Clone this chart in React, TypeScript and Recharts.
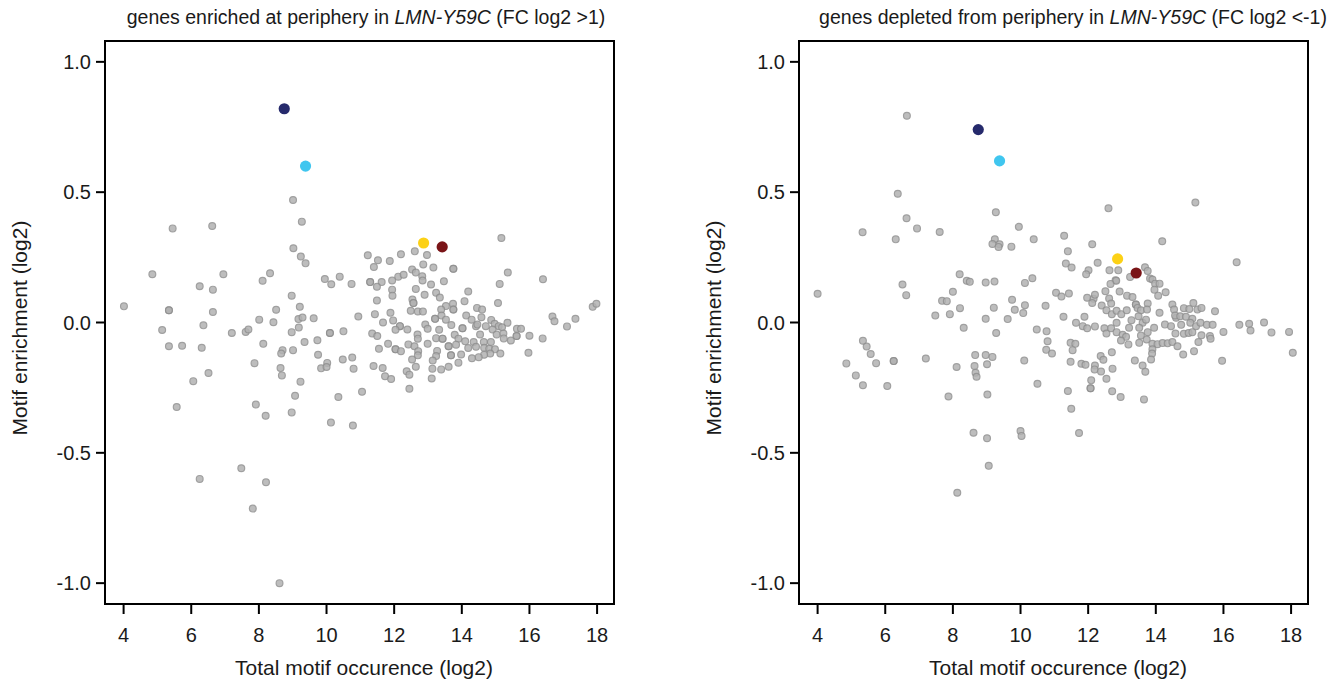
import { ScatterChart, Scatter, XAxis, YAxis, ReferenceArea } from 'recharts'

// [total motif occurrence (log2), motif enrichment (log2)]
const enrichedBackground: [number, number][] = [
  [9.01, 0.47], [9.27, 0.387], [5.45, 0.361], [6.62, 0.37], [9.02, 0.285], [9.24, 0.253], [9.38, 0.227],
  [4.85, 0.185], [6.95, 0.185], [8.33, 0.189], [8.11, 0.16], [6.25, 0.139], [6.64, 0.126], [9.95, 0.167],
  [10.14, 0.147], [10.39, 0.176], [10.74, 0.148], [8.97, 0.103], [4.01, 0.062], [5.34, 0.047], [5.34, 0.047],
  [6.64, 0.04], [8.51, 0.049], [9.21, 0.06], [8.01, 0.011], [8.43, 0.001], [9.17, 0.013], [9.29, 0.019],
  [9.62, 0.016], [6.36, -0.011],
  [5.14, -0.029], [7.2, -0.04], [7.61, -0.036], [7.69, -0.027], [8.97, -0.037], [9.18, -0.019], [10.1, -0.04],
  [10.1, -0.04], [10.5, -0.034], [5.34, -0.091], [5.73, -0.089], [6.31, -0.097], [8.13, -0.082], [8.7, -0.106],
  [8.66, -0.119], [9.01, -0.106], [9.35, -0.075], [9.73, -0.068], [9.75, -0.124], [10.02, -0.155], [9.84, -0.176],
  [10.0, -0.171], [10.48, -0.142], [10.76, -0.134], [10.8, -0.177], [7.87, -0.156], [8.64, -0.175], [8.68, -0.203],
  [6.51, -0.194], [6.06, -0.225], [9.23, -0.227], [9.07, -0.281], [10.35, -0.286], [5.57, -0.324], [7.91, -0.315],
  [8.2, -0.358], [8.97, -0.345], [10.13, -0.384], [10.78, -0.395], [7.48, -0.559], [6.25, -0.6], [8.21, -0.613],
  [7.82, -0.714], [8.61, -1.0],
  [11.22, 0.258], [11.52, 0.239], [11.87, 0.236], [12.2, 0.262], [12.61, 0.273], [12.97, 0.259], [11.4, 0.213],
  [12.86, 0.223], [13.16, 0.211], [13.75, 0.206], [13.75, 0.206], [12.53, 0.203], [12.64, 0.192], [12.83, 0.177],
  [12.12, 0.176], [12.28, 0.183], [11.94, 0.161], [11.63, 0.155], [11.29, 0.155], [11.29, 0.155], [11.49, 0.137],
  [12.84, 0.161], [13.09, 0.146], [13.47, 0.158], [12.64, 0.129], [11.94, 0.126], [11.95, 0.103], [12.9, 0.106],
  [13.24, 0.114], [13.35, 0.096], [14.19, 0.119], [11.49, 0.084], [12.54, 0.088], [12.57, 0.075], [12.57, 0.075],
  [14.08, 0.082], [13.74, 0.072], [13.53, 0.063], [13.39, 0.05], [13.75, 0.05], [13.75, 0.05], [14.45, 0.056],
  [12.49, 0.045], [12.7, 0.042], [12.85, 0.042], [11.89, 0.037], [11.43, 0.032], [10.94, 0.023], [14.13, 0.027],
  [14.29, 0.011], [13.21, 0.014], [13.21, 0.014], [13.4, 0.027], [13.53, 0.011], [11.97, 0.008], [11.67, 0.0],
  [12.92, -0.008], [13.69, -0.01], [14.02, -0.022], [14.02, -0.022], [14.42, -0.014], [12.17, -0.014],
  [12.17, -0.014], [12.04, -0.028], [12.39, -0.027], [12.99, -0.024], [13.33, -0.028], [13.79, -0.047],
  [11.35, -0.042], [11.5, -0.052], [12.69, -0.046], [12.7, -0.062], [13.24, -0.06], [13.43, -0.062], [13.43, -0.062],
  [13.9, -0.062], [14.1, -0.072], [11.82, -0.082], [12.42, -0.084], [12.6, -0.091], [12.99, -0.082], [13.61, -0.091],
  [13.61, -0.091], [13.83, -0.085], [14.35, -0.075], [14.19, -0.098], [11.55, -0.101], [12.04, -0.103],
  [12.04, -0.103], [12.2, -0.11], [12.71, -0.11], [13.27, -0.109], [13.68, -0.126], [13.68, -0.126], [13.98, -0.123],
  [12.7, -0.126], [13.24, -0.129], [14.3, -0.137], [12.53, -0.142], [13.14, -0.146], [13.9, -0.154], [11.39, -0.167],
  [11.66, -0.175], [12.64, -0.17], [13.13, -0.177], [13.39, -0.18], [13.61, -0.17], [12.37, -0.187], [12.45, -0.2],
  [11.73, -0.206], [11.91, -0.217], [13.11, -0.215], [11.05, -0.266], [12.45, -0.254],
  [15.17, 0.324], [15.36, 0.192], [15.12, 0.148], [16.4, 0.166], [15.07, 0.075], [14.6, 0.05], [14.58, 0.02],
  [14.46, -0.008], [14.87, 0.01], [14.97, -0.005], [15.09, -0.014], [15.19, -0.018], [15.35, -0.001], [14.71, -0.014],
  [14.91, -0.027], [15.63, -0.024], [15.75, -0.024], [16.0, -0.051], [16.39, -0.061], [16.68, 0.023], [16.74, 0.005],
  [17.36, 0.014], [17.11, -0.015], [17.87, 0.06], [17.98, 0.072], [14.54, -0.046], [15.03, -0.046], [15.23, -0.042],
  [15.24, -0.061], [15.62, -0.052], [15.62, -0.052], [15.45, -0.069], [14.65, -0.075], [14.86, -0.075],
  [14.42, -0.093], [14.66, -0.097], [14.81, -0.101], [14.98, -0.103], [14.84, -0.119], [15.14, -0.119],
  [14.66, -0.124], [14.5, -0.133], [15.97, -0.116],
]

const depletedBackground: [number, number][] = [
  [6.64, 0.793], [6.37, 0.494], [6.63, 0.4], [6.94, 0.361], [5.33, 0.346], [6.31, 0.319], [7.61, 0.347],
  [9.27, 0.423], [9.95, 0.367], [10.39, 0.319], [9.24, 0.319], [9.17, 0.301], [9.38, 0.3], [9.35, 0.29],
  [9.73, 0.291], [8.2, 0.185], [8.41, 0.16], [8.5, 0.156], [8.97, 0.153], [9.23, 0.157], [10.13, 0.152],
  [10.35, 0.17], [6.51, 0.146], [6.62, 0.105], [4.0, 0.11], [8.0, 0.118], [7.68, 0.083], [7.82, 0.082],
  [8.21, 0.055], [7.48, 0.027], [7.91, 0.032], [8.97, 0.014], [9.21, 0.057], [9.75, 0.087], [9.83, 0.049],
  [10.13, 0.066], [10.08, 0.036], [9.62, 0.013], [10.74, 0.064], [8.32, -0.02], [10.48, -0.027],
  [9.28, -0.04], [10.77, -0.034], [10.8, -0.072], [10.76, -0.105], [5.34, -0.07], [5.45, -0.092], [5.57, -0.121],
  [4.85, -0.157], [5.73, -0.156], [6.25, -0.148], [6.25, -0.148], [5.13, -0.203], [5.34, -0.241], [6.06, -0.244],
  [7.2, -0.138], [8.11, -0.171], [8.66, -0.125], [8.97, -0.125], [9.17, -0.132], [9.01, -0.16], [8.64, -0.167],
  [8.67, -0.193], [8.7, -0.208], [10.11, -0.146], [10.5, -0.235], [7.87, -0.284], [9.02, -0.276], [8.61, -0.423],
  [9.01, -0.444], [10.0, -0.416], [10.03, -0.435], [9.06, -0.55], [8.13, -0.653],
  [12.6, 0.438], [11.29, 0.333], [12.12, 0.3], [14.19, 0.312], [11.4, 0.273], [11.34, 0.226], [11.51, 0.211],
  [12.28, 0.229], [12.01, 0.2], [11.94, 0.185], [12.63, 0.2], [12.89, 0.2], [13.68, 0.212], [13.76, 0.198],
  [13.24, 0.175], [12.81, 0.162], [12.83, 0.16], [12.66, 0.148], [13.83, 0.169], [13.9, 0.165], [13.98, 0.149],
  [14.11, 0.149], [13.96, 0.126], [14.29, 0.116], [14.07, 0.103], [12.51, 0.12], [12.93, 0.119], [13.15, 0.103],
  [13.31, 0.098], [11.05, 0.114], [11.21, 0.1], [11.43, 0.111], [11.97, 0.095], [12.16, 0.091], [12.2, 0.106],
  [12.12, 0.075], [12.62, 0.092], [12.68, 0.073], [12.4, 0.065], [12.54, 0.047], [12.7, 0.032], [12.84, 0.045],
  [12.98, 0.032], [13.14, 0.047], [13.41, 0.069], [13.41, 0.069], [13.46, 0.056], [13.56, 0.047], [13.76, 0.073],
  [13.74, 0.05], [14.11, 0.037], [14.49, 0.069], [14.54, 0.05], [11.27, 0.022], [11.89, 0.022], [11.64, -0.001],
  [11.84, -0.014], [11.97, -0.022], [12.2, -0.015], [12.48, -0.022], [12.54, -0.042], [12.68, -0.022],
  [12.84, -0.001], [12.84, -0.037], [13.21, -0.02], [13.28, 0.009], [13.49, 0.024], [13.61, -0.001], [13.71, 0.011],
  [13.51, -0.02], [13.76, -0.037], [13.95, -0.02], [14.27, -0.008], [14.45, -0.014], [14.6, 0.018], [13.02, -0.047],
  [13.12, -0.055], [12.97, -0.069], [13.19, -0.084], [13.56, -0.05], [13.51, -0.078], [13.73, -0.065],
  [13.9, -0.082], [14.05, -0.083], [14.2, -0.079], [14.35, -0.08], [14.49, -0.075], [13.9, -0.103], [13.89, -0.119],
  [13.86, -0.142], [10.93, -0.119], [11.48, -0.078], [11.62, -0.082], [11.54, -0.106], [12.7, -0.114],
  [13.38, -0.146], [13.61, -0.165], [13.69, -0.189], [11.48, -0.151], [11.8, -0.158], [11.92, -0.162],
  [12.2, -0.165], [12.37, -0.129], [12.45, -0.143], [12.19, -0.18], [12.38, -0.188], [12.72, -0.177],
  [12.54, -0.216], [12.09, -0.222], [12.07, -0.252], [12.07, -0.252], [11.4, -0.263], [12.71, -0.264],
  [12.96, -0.286], [13.65, -0.295], [11.5, -0.331], [11.73, -0.424],
  [15.17, 0.46], [16.39, 0.231], [15.11, 0.075], [14.83, 0.055], [14.99, 0.052], [15.23, 0.05], [15.35, 0.056],
  [15.75, 0.043], [14.57, 0.027], [14.72, 0.024], [14.89, 0.022], [15.08, 0.014], [14.75, -0.009], [15.02, -0.001],
  [15.19, -0.014], [15.32, -0.001], [15.51, -0.009], [15.68, -0.009], [16.47, -0.009], [16.76, -0.005],
  [16.8, -0.031], [17.2, 0.0], [17.42, -0.038], [17.94, -0.036], [18.05, -0.116], [16.0, -0.036], [14.58, -0.042],
  [14.83, -0.043], [14.97, -0.04], [15.08, -0.037], [15.35, -0.049], [15.6, -0.052], [15.62, -0.062],
  [14.64, -0.091], [15.26, -0.075], [14.81, -0.123], [15.13, -0.11], [15.96, -0.147],
]

const highlightColors = ['#262a6c', '#40c6ef', '#fcd116', '#7a1417']
const enrichedHighlights: [number, number][] = [[8.75, 0.82], [9.38, 0.6], [12.87, 0.305], [13.42, 0.29]]
const depletedHighlights: [number, number][] = [[8.75, 0.74], [9.38, 0.62], [12.87, 0.244], [13.42, 0.19]]

const xTicks = [4, 6, 8, 10, 12, 14, 16, 18]
const yTicks = [-1.0, -0.5, 0.0, 0.5, 1.0]
const xDomain: [number, number] = [3.45, 18.5]
const yDomain: [number, number] = [-1.08, 1.08]

const FONT = '"Liberation Sans", Arial, sans-serif'
const INK = '#1a1a1a'

const toPoints = (rows: [number, number][]) => rows.map(([x, y]) => ({ x, y }))

const grayDot = (props: any) => (
  <circle cx={props.cx} cy={props.cy} r={3.4} fill="#b2b2b2" stroke="#909090" strokeWidth={1.2} opacity={0.85} />
)

function Panel({ background, highlights }: { background: [number, number][]; highlights: [number, number][] }) {
  const bg = toPoints(background)
  return (
    <ScatterChart width={644} height={684} margin={{ top: 41, right: 30, bottom: 0, left: 0 }}>
      <XAxis
        type="number"
        dataKey="x"
        domain={xDomain}
        ticks={xTicks}
        allowDataOverflow
        height={80}
        tickSize={10}
        tickMargin={14}
        axisLine={{ stroke: '#000', strokeWidth: 2 }}
        tickLine={{ stroke: '#000', strokeWidth: 2 }}
        tick={{ fontSize: 20, fill: INK, fontFamily: FONT }}
      />
      <YAxis
        type="number"
        dataKey="y"
        domain={yDomain}
        ticks={yTicks}
        allowDataOverflow
        width={105}
        tickSize={9}
        tickMargin={5}
        tickFormatter={(v: number) => v.toFixed(1)}
        axisLine={{ stroke: '#000', strokeWidth: 2 }}
        tickLine={{ stroke: '#000', strokeWidth: 2 }}
        tick={{ fontSize: 20, fill: INK, fontFamily: FONT }}
      />
      <ReferenceArea
        x1={xDomain[0]}
        x2={xDomain[1]}
        y1={yDomain[0]}
        y2={yDomain[1]}
        fill="none"
        stroke="#000"
        strokeWidth={2}
        ifOverflow="visible"
      />
      <Scatter data={bg} shape={grayDot} isAnimationActive={false} />
      {highlights.map(([x, y], i) => (
        <Scatter
          key={i}
          data={[{ x, y }]}
          isAnimationActive={false}
          shape={(p: any) => <circle cx={p.cx} cy={p.cy} r={5.6} fill={highlightColors[i]} />}
        />
      ))}
    </ScatterChart>
  )
}

const textStyle = { position: 'absolute' as const, whiteSpace: 'nowrap' as const, fontFamily: FONT, color: INK }

export default function App() {
  return (
    <div style={{ position: 'absolute', left: 0, top: 0, width: 1338, height: 684, background: '#fff' }}>
      <div style={{ position: 'absolute', left: 0, top: 0 }}>
        <Panel background={enrichedBackground} highlights={enrichedHighlights} />
      </div>
      <div style={{ position: 'absolute', left: 694, top: 0 }}>
        <Panel background={depletedBackground} highlights={depletedHighlights} />
      </div>

      <div style={{ ...textStyle, left: 366, top: 17, fontSize: 19.5, transform: 'translate(-50%, -50%)' }}>
        genes enriched at periphery in <i>LMN-Y59C</i> (FC log2 &gt;1)
      </div>
      <div style={{ ...textStyle, left: 1073, top: 17, fontSize: 19.5, transform: 'translate(-50%, -50%)' }}>
        genes depleted from periphery in <i>LMN-Y59C</i> (FC log2 &lt;-1)
      </div>

      <div style={{ ...textStyle, left: 20, top: 328, fontSize: 21, transform: 'translate(-50%, -50%) rotate(-90deg)' }}>
        Motif enrichment (log2)
      </div>
      <div style={{ ...textStyle, left: 714, top: 328, fontSize: 21, transform: 'translate(-50%, -50%) rotate(-90deg)' }}>
        Motif enrichment (log2)
      </div>

      <div style={{ ...textStyle, left: 364, top: 668, fontSize: 21, transform: 'translate(-50%, -50%)' }}>
        Total motif occurence (log2)
      </div>
      <div style={{ ...textStyle, left: 1058, top: 668, fontSize: 21, transform: 'translate(-50%, -50%)' }}>
        Total motif occurence (log2)
      </div>
    </div>
  )
}
